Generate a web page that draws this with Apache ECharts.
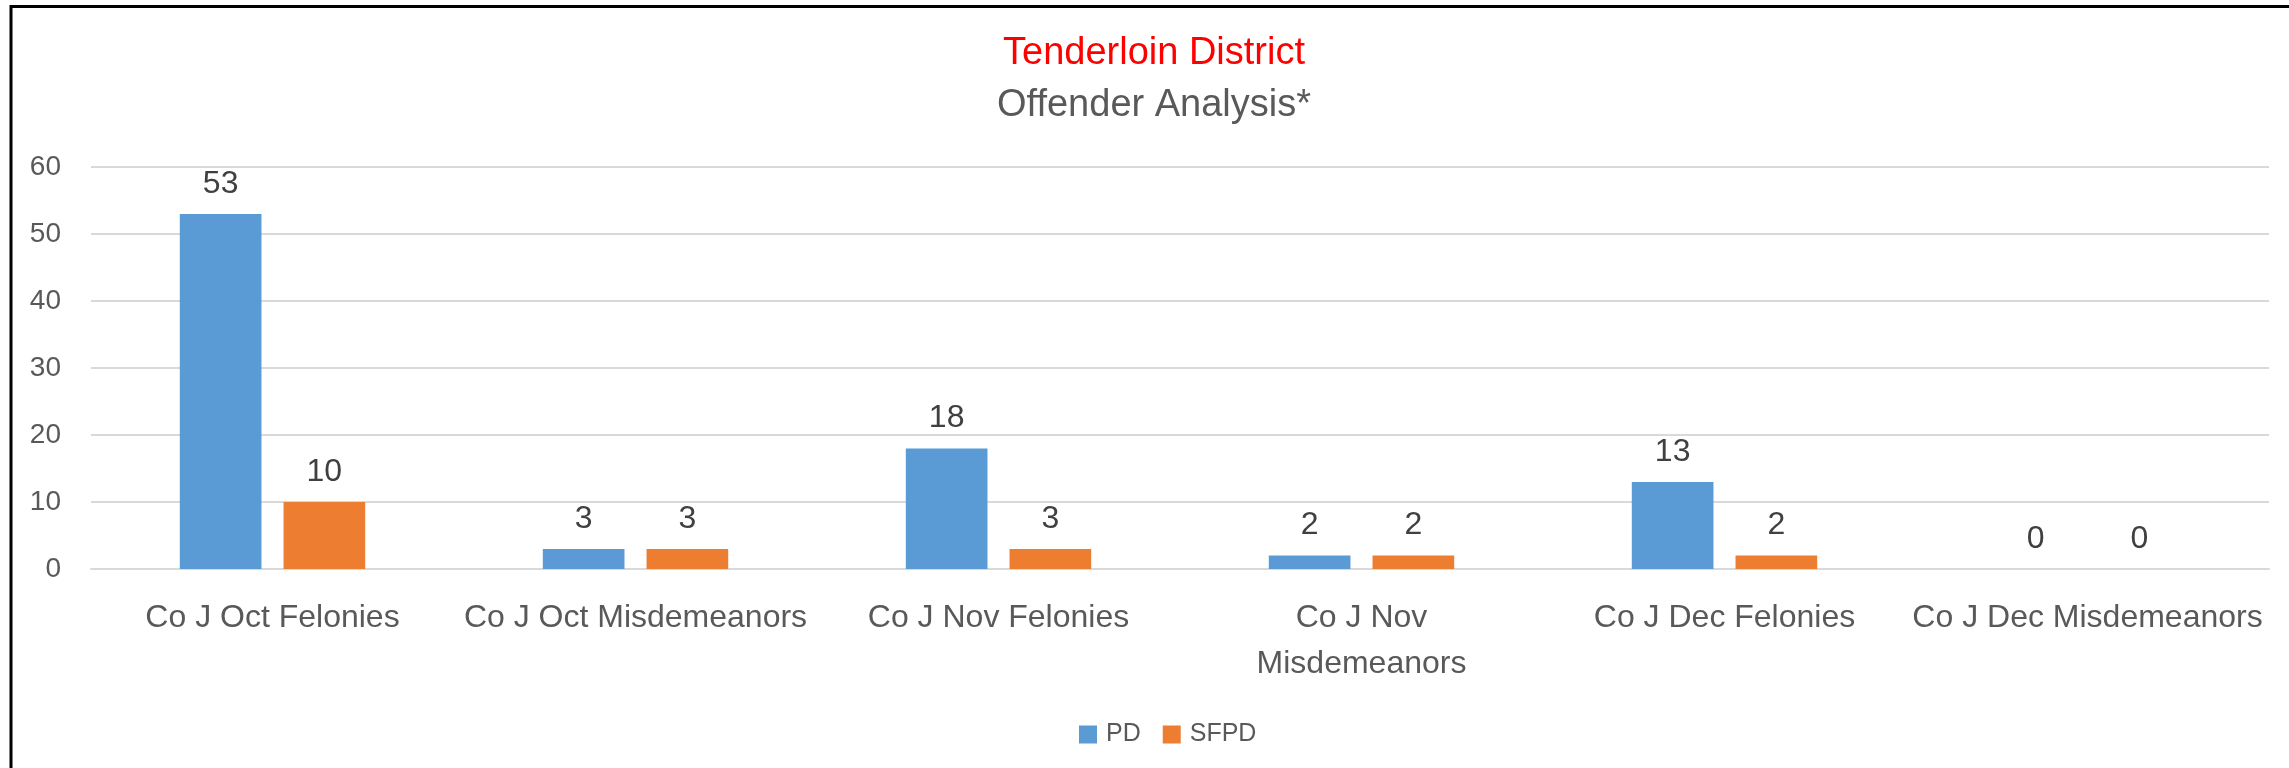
<!DOCTYPE html>
<html>
<head>
<meta charset="utf-8">
<script src="https://cdn.jsdelivr.net/npm/echarts@6/dist/echarts.min.js"></script>
<style>
html,body{margin:0;padding:0;background:#fff;}
#chart{width:2289px;height:768px;}
</style>
</head>
<body>
<div id="chart"></div>
<script>
const titleText = 'Tenderloin District';
const subtitleText = 'Offender Analysis*';
const categories = ['Co J Oct Felonies', 'Co J Oct Misdemeanors', 'Co J Nov Felonies', 'Co J Nov\nMisdemeanors', 'Co J Dec Felonies', 'Co J Dec Misdemeanors'];
const seriesNames = ['PD', 'SFPD'];
const pdValues = [53, 3, 18, 2, 13, 0];
const sfpdValues = [10, 3, 3, 2, 2, 0];
const yTicks = { min: 0, max: 60, interval: 10 };

const FONT = '"Liberation Sans", Arial, sans-serif';
const chart = echarts.init(document.getElementById('chart'));
const labelStyle = {
  show: true, position: 'top', distance: 14,
  fontFamily: FONT, fontSize: 32, color: '#404040'
};
chart.setOption({
  animation: false,
  backgroundColor: '#fff',
  textStyle: { fontFamily: FONT },
  graphic: [
    { type: 'rect', shape: { x: 11, y: 6.5, width: 2400, height: 1000 },
      style: { fill: 'none', stroke: '#000', lineWidth: 3 }, silent: true },
    { type: 'text', x: 1154, y: 54,
      style: { text: titleText, fill: '#FF0000', font: '38px ' + FONT, textAlign: 'center', textVerticalAlign: 'middle' } },
    { type: 'text', x: 1154, y: 106,
      style: { text: subtitleText, fill: '#595959', font: '38px ' + FONT, textAlign: 'center', textVerticalAlign: 'middle' } }
  ],
  legend: {
    data: seriesNames,
    left: 1074, top: 717,
    itemWidth: 18, itemHeight: 18, itemGap: 22,
    icon: 'rect',
    textStyle: { fontFamily: FONT, fontSize: 25, color: '#595959', padding: [0, 0, 0, 4] }
  },
  grid: { left: 91, right: 20, top: 167, bottom: 199, containLabel: false },
  xAxis: {
    type: 'category',
    data: categories,
    axisLine: { lineStyle: { color: '#d9d9d9', width: 2 } },
    axisTick: { show: false },
    axisLabel: { fontFamily: FONT, fontSize: 32, color: '#595959', margin: 26, lineHeight: 46, interval: 0 }
  },
  yAxis: {
    type: 'value',
    min: yTicks.min, max: yTicks.max, interval: yTicks.interval,
    axisLine: { show: false },
    axisTick: { show: false },
    splitLine: { lineStyle: { color: '#d9d9d9', width: 2 } },
    axisLabel: { fontFamily: FONT, fontSize: 28, color: '#595959', margin: 30 }
  },
  series: [
    { name: seriesNames[0], type: 'bar', data: pdValues, barWidth: '22.5%', barGap: '27%',
      itemStyle: { color: '#5B9BD5' }, label: labelStyle },
    { name: seriesNames[1], type: 'bar', data: sfpdValues, barWidth: '22.5%', barGap: '27%',
      itemStyle: { color: '#ED7D31' }, label: labelStyle }
  ]
});
</script>
</body>
</html>
